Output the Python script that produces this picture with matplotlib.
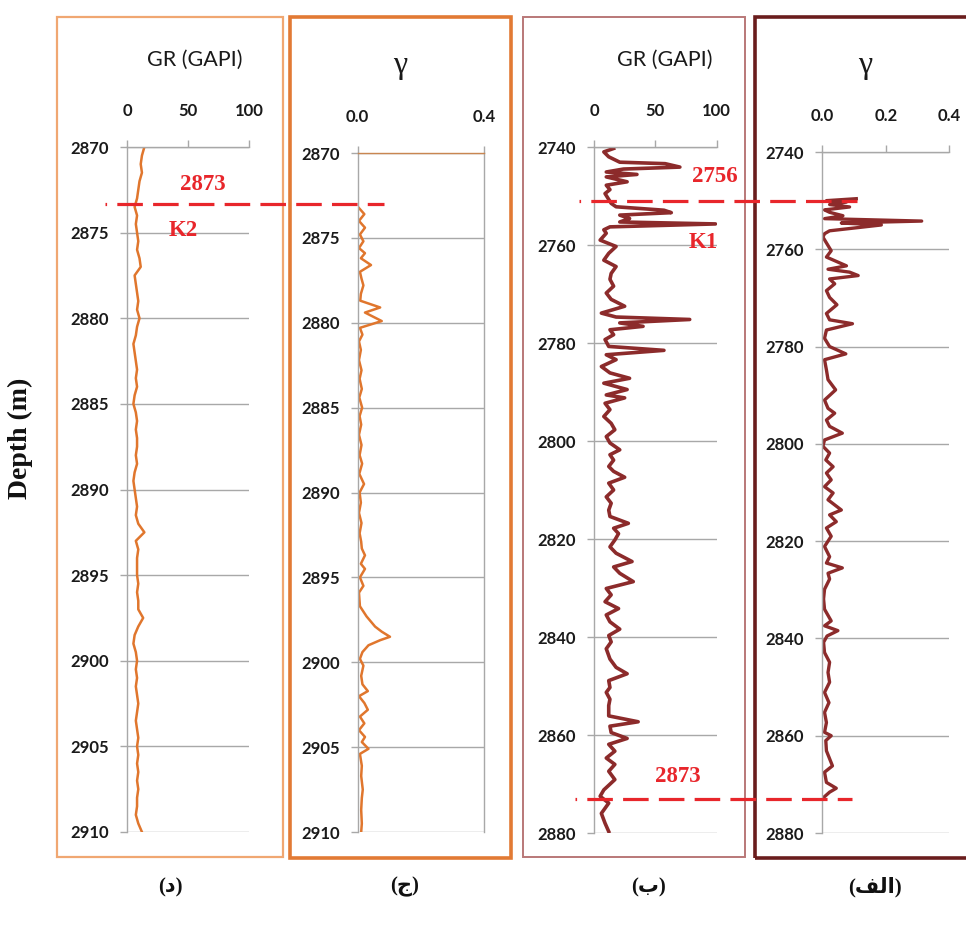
import matplotlib
matplotlib.use("Agg")
import matplotlib.pyplot as plt
from matplotlib.patches import Rectangle
from matplotlib.lines import Line2D
from matplotlib.transforms import blended_transform_factory

W, H = 966, 926

# ---------------- data ----------------
# Panel (د): GR (GAPI) vs depth, well K2 interval
gr_d_depth = [2870.0 + 0.5 * i for i in range(81)]
gr_d_vals = [14, 12, 11, 12, 10, 9, 8, 6, 8, 7, 8, 9, 8, 10, 11, 6, 7, 8, 9, 8,
             10, 8, 7, 5, 6, 7, 8, 7, 8, 6, 5, 7, 8, 7, 8, 8, 7, 8, 6, 5,
             6, 7, 8, 7, 9, 14, 7, 9, 8, 8, 8, 9, 8, 9, 9, 13, 9, 6, 5, 7,
             8, 7, 8, 7, 8, 9, 8, 7, 8, 9, 8, 9, 8, 9, 8, 9, 8, 8, 7, 9, 12]

# Panel (ج): gamma vs depth
gam_c_depth = [2873.2, 2873.6, 2874.0, 2874.4, 2874.8, 2875.2, 2875.6, 2875.9, 2876.2, 2876.6,
               2877.0, 2877.4, 2877.8, 2878.3, 2878.7, 2879.1, 2879.4, 2879.9, 2880.3, 2880.7,
               2881.1, 2881.6, 2882.2, 2882.8, 2883.3, 2883.9, 2884.4, 2885.0, 2885.5, 2886.0,
               2886.6, 2887.2, 2887.8, 2888.3, 2888.9, 2889.5, 2890.0, 2890.6, 2891.2, 2891.8,
               2892.4, 2892.9, 2893.3, 2893.7, 2894.2, 2894.5, 2895.0, 2895.5, 2895.9, 2896.7,
               2897.3, 2897.9, 2898.2, 2898.5, 2898.7, 2899.0, 2899.4, 2899.8, 2900.2, 2900.8,
               2901.3, 2901.7, 2902.0, 2902.4, 2902.8, 2903.2, 2903.6, 2904.0, 2904.4, 2904.7,
               2905.1, 2905.4, 2906.1, 2906.7, 2907.5, 2908.0, 2908.7, 2909.5, 2910.0]
gam_c_vals = [0.002, 0.021, 0.004, 0.023, 0.007, 0.018, 0.004, 0.023, 0.010, 0.042,
              0.007, 0.012, 0.018, 0.010, 0.008, 0.071, 0.023, 0.076, 0.007, 0.015,
              0.004, 0.010, 0.004, 0.012, 0.006, 0.013, 0.005, 0.014, 0.006, 0.011,
              0.004, 0.012, 0.006, 0.014, 0.005, 0.020, 0.006, 0.010, 0.004, 0.012,
              0.006, 0.011, 0.013, 0.023, 0.010, 0.023, 0.007, 0.018, 0.004, 0.007,
              0.028, 0.055, 0.076, 0.102, 0.071, 0.034, 0.015, 0.007, 0.018, 0.011,
              0.015, 0.032, 0.004, 0.021, 0.032, 0.007, 0.021, 0.004, 0.023, 0.013,
              0.034, 0.007, 0.013, 0.011, 0.016, 0.013, 0.011, 0.013, 0.011]

# Panel (ب): GR (GAPI) vs depth, K1 interval
gr_b_depth = [2740.3, 2741.0, 2742.0, 2743.1, 2743.4, 2744.1, 2744.5, 2745.1, 2745.6, 2746.1,
              2747.1, 2747.8, 2748.7, 2749.5, 2750.7, 2751.5, 2752.2, 2752.9, 2753.4, 2753.9,
              2754.6, 2755.3, 2755.7, 2756.3, 2756.9, 2757.6, 2759.0, 2760.3, 2761.7, 2763.1,
              2764.4, 2765.8, 2767.0, 2768.4, 2769.8, 2771.1, 2772.5, 2773.9, 2774.7, 2775.2,
              2775.9, 2776.6, 2777.3, 2778.3, 2779.3, 2780.7, 2781.5, 2782.4, 2783.4, 2784.8,
              2786.1, 2787.2, 2788.2, 2789.5, 2790.6, 2791.2, 2792.3, 2793.6, 2795.0, 2796.4,
              2797.7, 2799.1, 2800.4, 2801.8, 2802.8, 2803.9, 2805.2, 2806.2, 2807.4, 2808.6,
              2810.0, 2811.4, 2812.7, 2814.1, 2815.4, 2816.8, 2817.8, 2818.9, 2820.2, 2821.6,
              2822.9, 2824.6, 2825.7, 2827.0, 2828.7, 2830.1, 2831.4, 2832.8, 2834.2, 2835.5,
              2836.9, 2838.4, 2839.7, 2841.0, 2842.4, 2844.5, 2846.2, 2847.5, 2848.9, 2850.3,
              2851.3, 2852.7, 2854.0, 2856.1, 2857.3, 2858.2, 2859.5, 2860.7, 2861.9, 2863.3,
              2864.7, 2866.0, 2867.4, 2869.1, 2871.2, 2872.5, 2873.9, 2876.0, 2878.0, 2879.7]
gr_b_vals = [16, 8, 12, 21, 58, 70, 24, 10, 35, 10,
             27, 10, 13, 9, 12, 14, 18, 57, 63, 21,
             29, 21, 99, 13, 8, 10, 5, 18, 12, 8,
             18, 14, 13, 16, 10, 14, 25, 6, 18, 78,
             21, 40, 13, 16, 9, 12, 57, 10, 18, 6,
             13, 29, 8, 27, 10, 25, 9, 13, 8, 14,
             17, 10, 13, 21, 13, 16, 12, 16, 25, 12,
             16, 10, 14, 12, 13, 28, 16, 20, 17, 13,
             18, 31, 16, 21, 32, 10, 14, 9, 20, 10,
             13, 21, 12, 14, 10, 13, 18, 27, 12, 13,
             10, 13, 12, 12, 36, 13, 14, 27, 12, 17,
             10, 17, 12, 17, 8, 5, 12, 6, 9, 12]

# Panel (الف): gamma vs depth
gam_a_depth = [2749.6, 2750.0, 2750.3, 2750.8, 2751.3, 2751.9, 2752.4, 2753.1, 2753.7, 2754.2,
               2754.6, 2755.0, 2755.5, 2756.2, 2756.8, 2757.5, 2758.9, 2760.3, 2761.6, 2763.4,
               2764.1, 2764.7, 2765.4, 2766.1, 2767.1, 2768.5, 2769.9, 2771.4, 2773.2, 2774.5,
               2775.3, 2776.6, 2778.3, 2780.0, 2781.5, 2782.7, 2784.8, 2786.8, 2788.9, 2791.0,
               2792.7, 2793.7, 2795.1, 2796.4, 2797.8, 2799.2, 2800.5, 2801.9, 2803.3, 2804.7,
               2806.0, 2807.4, 2808.8, 2810.1, 2811.5, 2813.6, 2814.6, 2816.0, 2817.3, 2819.0,
               2821.1, 2823.2, 2824.5, 2825.5, 2826.6, 2827.8, 2829.9, 2831.9, 2834.0, 2836.4,
               2837.4, 2838.4, 2839.5, 2840.8, 2842.9, 2844.9, 2847.0, 2849.0, 2851.1, 2853.2,
               2855.2, 2857.3, 2859.3, 2860.0, 2861.0, 2863.1, 2866.2, 2867.5, 2869.6, 2870.8,
               2871.6, 2872.7]
gam_a_vals = [0.107, 0.013, 0.076, 0.023, 0.086, 0.007, 0.023, 0.065, 0.007, 0.313,
              0.060, 0.186, 0.118, 0.023, 0.007, 0.002, 0.015, 0.028, 0.013, 0.076,
              0.018, 0.086, 0.113, 0.023, 0.039, 0.013, 0.023, 0.046, 0.013, 0.023,
              0.095, 0.013, 0.007, 0.023, 0.074, 0.007, 0.013, 0.018, 0.042, 0.007,
              0.018, 0.039, 0.013, 0.023, 0.063, 0.007, 0.002, 0.023, 0.011, 0.034,
              0.013, 0.028, 0.007, 0.034, 0.018, 0.060, 0.023, 0.044, 0.013, 0.028,
              0.007, 0.023, 0.013, 0.063, 0.018, 0.023, 0.007, 0.004, 0.007, 0.028,
              0.007, 0.049, 0.015, 0.004, 0.007, 0.023, 0.018, 0.023, 0.007, 0.021,
              0.007, 0.013, 0.007, 0.028, 0.011, 0.013, 0.032, 0.007, 0.013, 0.044,
              0.023, 0.004]

gr_ticks = [0, 50, 100]
gam_c_ticks = [0.0, 0.4]
gam_a_ticks = [0.0, 0.2, 0.4]
depth_ticks_k2 = [2870, 2875, 2880, 2885, 2890, 2895, 2900, 2905, 2910]
depth_ticks_k1 = [2740, 2760, 2780, 2800, 2820, 2840, 2860, 2880]

boundary_k2 = 2873
boundary_k1_top = 2750
boundary_k1_base = 2873

panel_labels = ["(\u062F)", "(\u062C)", "(\u0628)", "(\uFED2\uFEDF\uFE8D)"]

# ---------------- styling ----------------
ORANGE = "#e0762d"
MAROON = "#8c2b2b"
RED = "#e8262b"
GRID = "#a8a8a8"
TICKFONT = dict(family="Lato", weight="bold", size=12)

fig = plt.figure(figsize=(W / 100, H / 100), dpi=100)


def px_axes(x0, x1, ytop, ybot):
    return fig.add_axes([x0 / W, 1 - ybot / H, (x1 - x0) / W, (ybot - ytop) / H])


def style(ax, xlim, xticks, xfmt, ylim, yticks, top_color=GRID, right=False):
    ax.set_xlim(*xlim)
    ax.set_ylim(ylim[1], ylim[0])
    ax.xaxis.tick_top()
    ax.set_xticks(xticks)
    ax.set_xticklabels([xfmt(v) for v in xticks])
    ax.set_yticks(yticks)
    ax.set_yticklabels([str(v) for v in yticks])
    for lab in ax.get_xticklabels() + ax.get_yticklabels():
        lab.set_fontfamily(TICKFONT["family"])
        lab.set_fontweight(TICKFONT["weight"])
        lab.set_fontsize(TICKFONT["size"])
        lab.set_color("#1a1a1a")
    ax.tick_params(axis="x", direction="out", length=5, pad=15, color=GRID, width=1)
    ax.tick_params(axis="y", direction="out", length=5, pad=8, color=GRID, width=1)
    ax.spines["bottom"].set_visible(False)
    ax.spines["right"].set_visible(right)
    ax.spines["right"].set_color(GRID)
    ax.spines["left"].set_color(GRID)
    ax.spines["top"].set_color(top_color)
    for s in ax.spines.values():
        s.set_linewidth(1)
    ax.grid(axis="y", color=GRID, lw=1)
    ax.set_axisbelow(True)
    ax.patch.set_alpha(0)


# Frames
frames = [
    ((57, 17, 283, 857), "#f0a772", 1.6),
    ((290, 17, 511, 858), "#e27a34", 2.6),
    ((523, 17, 745, 857), "#b97878", 1.4),
    ((755, 17, 975, 858), "#6a1d1d", 2.6),
]
for (x0, y0, x1, y1), c, lw in frames:
    fig.add_artist(Rectangle((x0 / W, 1 - y1 / H), (x1 - x0) / W, (y1 - y0) / H,
                             transform=fig.transFigure, fill=False, ec=c, lw=lw, zorder=0))

# Panel d
ax_d = px_axes(127.3, 249.3, 147, 832)
style(ax_d, (0, 100), gr_ticks, lambda v: f"{v:g}", (2870, 2910), depth_ticks_k2)
ax_d.plot(gr_d_vals, gr_d_depth, color=ORANGE, lw=1.8, solid_joinstyle="round")

# Panel c
ax_c = px_axes(357.7, 484.3, 153, 832)
style(ax_c, (0, 0.4), gam_c_ticks, lambda v: f"{v:.1f}", (2870, 2910), depth_ticks_k2,
      top_color="#c98650", right=True)
ax_c.plot(gam_c_vals, gam_c_depth, color=ORANGE, lw=1.8, solid_joinstyle="round")

# Panel b
ax_b = px_axes(594, 716.7, 147, 833)
style(ax_b, (0, 100), gr_ticks, lambda v: f"{v:g}", (2740, 2880), depth_ticks_k1)
ax_b.plot(gr_b_vals, gr_b_depth, color=MAROON, lw=2.6, solid_joinstyle="round")

# Panel a
ax_a = px_axes(822.3, 949.3, 152, 833)
style(ax_a, (0, 0.4), gam_a_ticks, lambda v: f"{v:.1f}", (2740, 2880), depth_ticks_k1)
ax_a.plot(gam_a_vals, gam_a_depth, color=MAROON, lw=2.4, solid_joinstyle="round")

# Titles
fig.text(195 / W, 1 - 60 / H, "GR (GAPI)", ha="center", va="center",
         family="Lato", fontsize=15.5, color="#1a1a1a")
fig.text(665 / W, 1 - 60 / H, "GR (GAPI)", ha="center", va="center",
         family="Lato", fontsize=15.5, color="#1a1a1a")
fig.text(400 / W, 1 - 66 / H, "\u03b3", ha="center", va="center",
         family="Liberation Serif", fontsize=23, color="#1a1a1a")
fig.text(865 / W, 1 - 66 / H, "\u03b3", ha="center", va="center",
         family="Liberation Serif", fontsize=23, color="#1a1a1a")

# Boundary dashed lines
dash = (7.5, (8, 3.2))


def hline(ax, depth, x0, x1):
    tr = blended_transform_factory(fig.transFigure, ax.transData)
    fig.add_artist(Line2D([x0 / W, x1 / W], [depth, depth], transform=tr, color=RED,
                          lw=2.3, linestyle=dash, zorder=10))


hline(ax_c, boundary_k2, 105, 384)
hline(ax_a, boundary_k1_top, 579, 857)
hline(ax_b, boundary_k1_base, 575, 852)

redfont = dict(family="Liberation Serif", weight="bold", color=RED, fontsize=16.5,
               ha="center", va="center")
fig.text(203 / W, 1 - 184 / H, str(boundary_k2), **redfont)
fig.text(183 / W, 1 - 230 / H, "K2", **redfont)
fig.text(715 / W, 1 - 176 / H, "2756", **redfont)
fig.text(703 / W, 1 - 243 / H, "K1", **redfont)
fig.text(678 / W, 1 - 776 / H, str(boundary_k1_base), **redfont)

# Y label
fig.text(20 / W, 1 - 438 / H, "Depth (m)", rotation=90, ha="center", va="center",
         family="Liberation Serif", weight="bold", fontsize=20, color="#111111")

# Panel labels
for xc, lab in zip([170, 405, 648, 875], panel_labels):
    fig.text(xc / W, 1 - 887 / H, lab, ha="center", va="center",
             family=["Liberation Serif", "DejaVu Sans"], weight="bold",
             fontsize=15, color="#111111")

fig.savefig("out.png", dpi=100)
